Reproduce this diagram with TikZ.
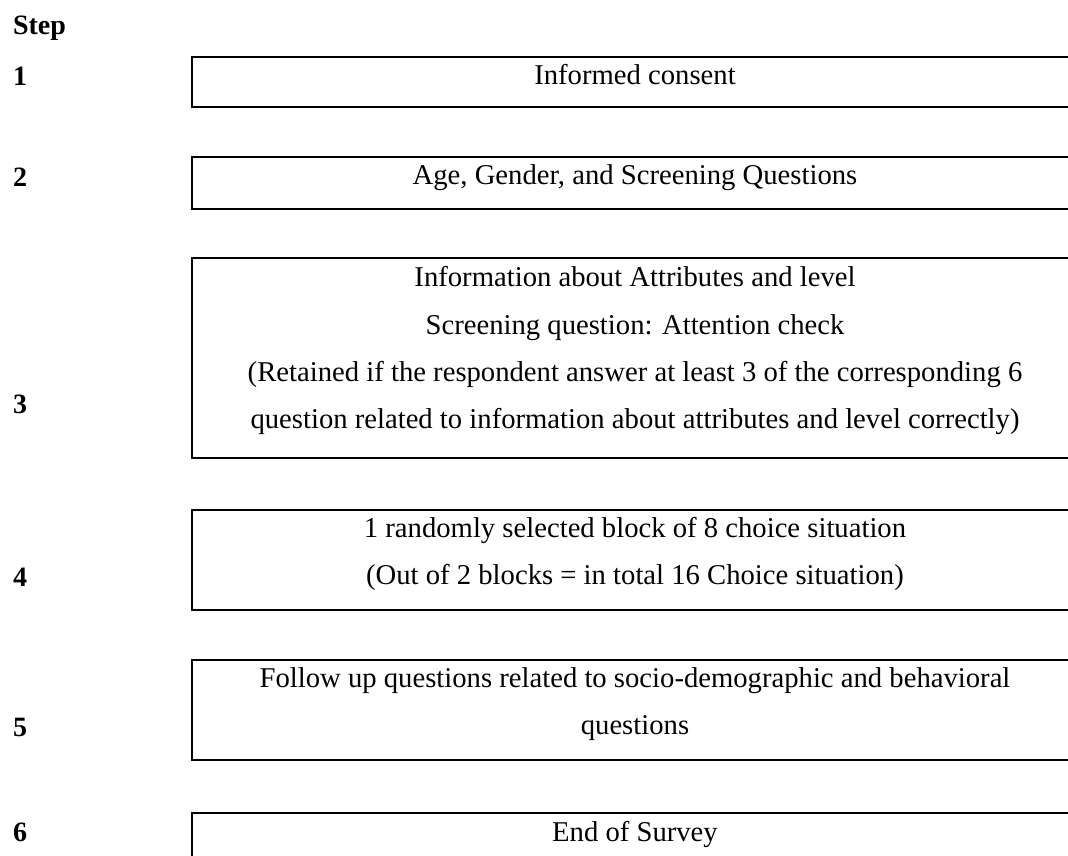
\documentclass[tikz,border=0pt]{standalone}
\usepackage{fontspec}
\setmainfont{Liberation Serif}
\usepackage{xcolor}
\usepackage{tikz}

\begin{document}
\begin{tikzpicture}[x=0.75pt,y=0.75pt,
  stepbox/.style={draw=drawColor,line width=1.2pt,minimum width=664.5pt,inner sep=0pt,outer sep=0pt},
  boxtext/.style={text=drawColor,anchor=base,align=center,inner sep=0pt,outer sep=0pt,
    font=\fontsize{21.5}{35.6}\selectfont},
  steplabel/.style={text=drawColor,anchor=base west,inner sep=0pt,outer sep=0pt,
    font=\fontsize{21}{25}\selectfont\bfseries}]
\definecolor{fillColor}{RGB}{255,255,255}
\definecolor{drawColor}{RGB}{0,0,0}
\path[use as bounding box,fill=fillColor] (0,0) rectangle (1068,856);
\begin{scope}
\path[clip] (0,0) rectangle (1068,856);

\node[steplabel] (stephead) at (13,821.5) {Step};

\node[steplabel] (num1) at (13,770) {1};

\node[steplabel] (num2) at (13,669) {2};

\node[steplabel] (num3) at (13,442) {3};

\node[steplabel] (num4) at (13,269) {4};

\node[steplabel] (num5) at (13,119) {5};

\node[steplabel] (num6) at (13,14) {6};

\node[stepbox,minimum height=37.5pt] (box1) at (635,774) {};

\node[stepbox,minimum height=39pt] (box2) at (635,673) {};

\node[stepbox,minimum height=150pt] (box3) at (635,498) {};

\node[stepbox,minimum height=75pt] (box4) at (635,296) {};

\node[stepbox,minimum height=75pt] (box5) at (635,146) {};

\node[stepbox,minimum height=37.5pt] (box6) at (635,18) {};

% multi-line texts sit on the baseline of their last line
\node[boxtext] (text1) at (635,771) {Informed consent};

\node[boxtext] (text2) at (635,671) {Age, Gender, and Screening Questions};

\node[boxtext] (text3) at (635,427) {Information about Attributes and level\\
  Screening question: Attention check\\
  (Retained if the respondent answer at least 3 of the corresponding 6\\
  question related to information about attributes and level correctly)};

\node[boxtext] (text4) at (635,271) {1 randomly selected block of 8 choice situation\\
  (Out of 2 blocks = in total 16 Choice situation)};

\node[boxtext] (text5) at (635,121) {Follow up questions related to socio-demographic and behavioral\\
  questions};

\node[boxtext] (text6) at (635,14) {End of Survey};
\end{scope}
\end{tikzpicture}
\end{document}
